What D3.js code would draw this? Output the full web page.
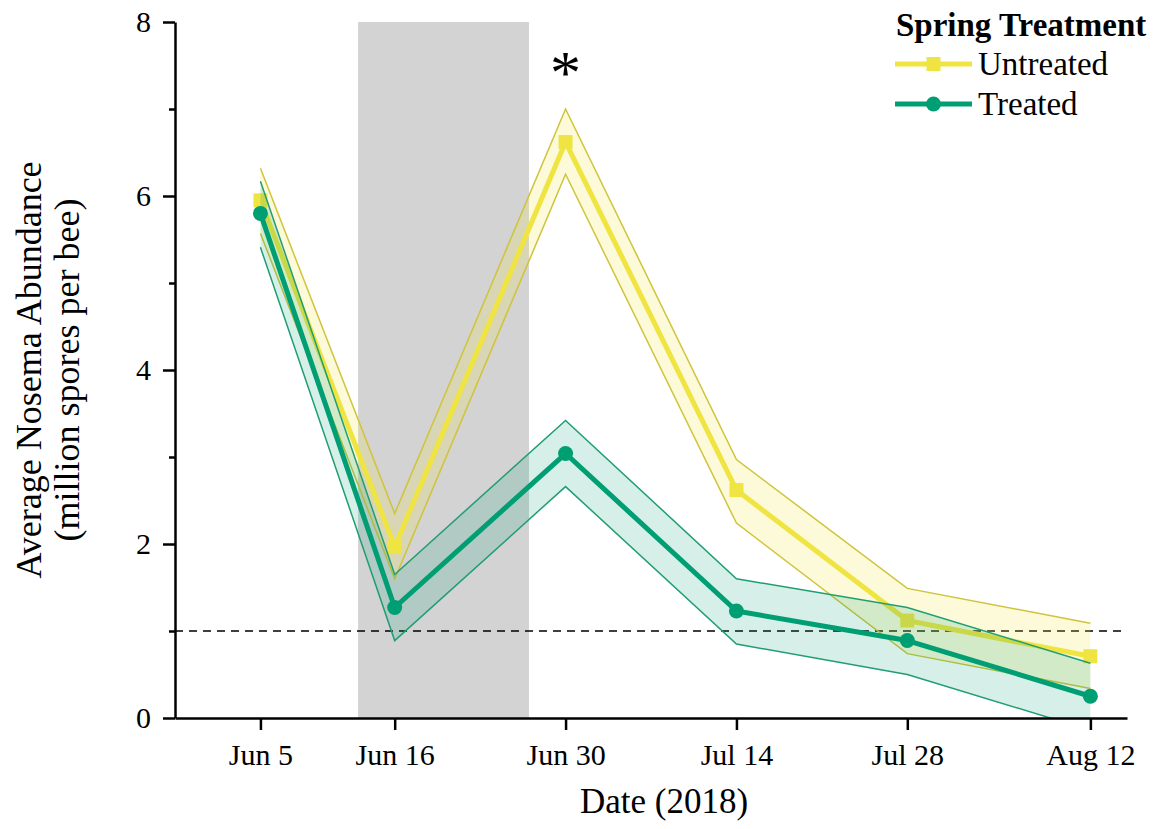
<!DOCTYPE html>
<html>
<head>
<meta charset="utf-8">
<script src="https://cdn.jsdelivr.net/npm/d3@7"></script>
<style>
  body { margin: 0; background: #fff; }
  text { font-family: "Liberation Serif", "Times New Roman", serif; }
</style>
</head>
<body>
<script>
// Data
const dates = ["2018-06-05", "2018-06-16", "2018-06-30", "2018-07-14", "2018-07-28", "2018-08-12"];
const untreatedMean = [5.95, 1.97, 6.62, 2.62, 1.12, 0.71];
const untreatedUpper = [6.32, 2.35, 7.00, 2.97, 1.49, 1.09];
const untreatedLower = [5.57, 1.60, 6.25, 2.24, 0.74, 0.34];
const treatedMean = [5.80, 1.27, 3.04, 1.23, 0.89, 0.25];
const treatedUpper = [6.17, 1.65, 3.42, 1.60, 1.27, 0.63];
const treatedLower = [5.41, 0.89, 2.66, 0.85, 0.50, -0.14];
const shadeRange = ["2018-06-13", "2018-06-27"];
const yMajorTicks = [0, 2, 4, 6, 8];
const yMinorTicks = [1, 3, 5, 7];
const threshold = 1;
const seriesNames = ["Untreated", "Treated"];
const seriesColors = ["#F0E442", "#009E73"];

const parse = d3.timeParse("%Y-%m-%d");

// Chart size
const margin = { top: 22, right: 28, bottom: 111, left: 175 };
const width = 1155;
const height = 829;
const innerW = width - margin.left - margin.right;
const innerH = height - margin.top - margin.bottom;

const svg = d3.select("body")
    .append("svg")
    .attr("width", width)
    .attr("height", height)
    .append("g")
    .attr("transform", "translate(" + margin.left + "," + margin.top + ")");

// Scales
const xScale = d3.scaleTime()
    .domain([parse("2018-05-29"), parse("2018-08-15")])
    .range([0, innerW]);
const yScale = d3.scaleLinear()
    .domain([0, 8])
    .range([innerH, 0]);

// Clip to the plot area (treated band dips below zero)
svg.append("clipPath")
    .attr("id", "plot-clip")
    .append("rect")
    .attr("width", innerW)
    .attr("height", innerH);

const plot = svg.append("g").attr("clip-path", "url(#plot-clip)");

// Gray treatment window
plot.append("rect")
    .attr("x", xScale(parse(shadeRange[0])))
    .attr("y", 0)
    .attr("width", xScale(parse(shadeRange[1])) - xScale(parse(shadeRange[0])))
    .attr("height", innerH)
    .attr("fill", "#d3d3d3");

// Dashed threshold line
plot.append("line")
    .attr("x1", 0)
    .attr("x2", innerW)
    .attr("y1", yScale(threshold))
    .attr("y2", yScale(threshold))
    .attr("stroke", "#000")
    .attr("stroke-width", 1.6)
    .attr("stroke-dasharray", "8,6");

// Build rows for each series
const untreated = dates.map((d, i) => ({ date: parse(d), mean: untreatedMean[i], lo: untreatedLower[i], hi: untreatedUpper[i] }));
const treated = dates.map((d, i) => ({ date: parse(d), mean: treatedMean[i], lo: treatedLower[i], hi: treatedUpper[i] }));

const area = d3.area()
    .x(d => xScale(d.date))
    .y0(d => yScale(d.lo))
    .y1(d => yScale(d.hi));
const line = d3.line()
    .x(d => xScale(d.date))
    .y(d => yScale(d.mean));

function drawSeries(data, color, edge, fillOpacity, shape) {
    // confidence band
    plot.append("path")
        .datum(data)
        .attr("d", area)
        .attr("fill", color)
        .attr("fill-opacity", fillOpacity);
    ["lo", "hi"].forEach(k => {
        plot.append("path")
            .datum(data)
            .attr("d", d3.line().x(d => xScale(d.date)).y(d => yScale(d[k])))
            .attr("fill", "none")
            .attr("stroke", edge)
            .attr("stroke-width", 1.5);
    });
    // mean line
    plot.append("path")
        .datum(data)
        .attr("d", line)
        .attr("fill", "none")
        .attr("stroke", color)
        .attr("stroke-width", 5)
        .attr("stroke-linejoin", "round");
    // markers
    if (shape === "square") {
        plot.selectAll(null)
            .data(data)
            .join("rect")
            .attr("x", d => xScale(d.date) - 7)
            .attr("y", d => yScale(d.mean) - 7)
            .attr("width", 14)
            .attr("height", 14)
            .attr("fill", color);
    } else {
        plot.selectAll(null)
            .data(data)
            .join("circle")
            .attr("cx", d => xScale(d.date))
            .attr("cy", d => yScale(d.mean))
            .attr("r", 7.5)
            .attr("fill", color);
    }
}

drawSeries(untreated, seriesColors[0], "#cfc43a", 0.2, "square");
drawSeries(treated, seriesColors[1], "#1f9e74", 0.16, "circle");

// Significance asterisk
svg.append("text")
    .attr("x", xScale(parse(dates[2])))
    .attr("y", 93 - margin.top)
    .attr("text-anchor", "middle")
    .style("font-size", "62px")
    .text("*");

// Axes
const xAxis = d3.axisBottom(xScale)
    .tickValues(dates.map(parse))
    .tickFormat(d3.timeFormat("%b %-d"))
    .tickSize(12)
    .tickSizeOuter(0)
    .tickPadding(14);
const gx = svg.append("g")
    .attr("transform", "translate(0," + innerH + ")")
    .call(xAxis);

const yAxis = d3.axisLeft(yScale)
    .tickValues(yMajorTicks)
    .tickSize(12)
    .tickSizeOuter(0)
    .tickPadding(12);
const gy = svg.append("g").call(yAxis);

const gyMinor = svg.append("g")
    .call(d3.axisLeft(yScale).tickValues(yMinorTicks).tickSize(6).tickFormat(""));
gyMinor.select(".domain").remove();

[gx, gy, gyMinor].forEach(g => {
    g.selectAll("path, line").attr("stroke", "#000").attr("stroke-width", 2.5);
    g.selectAll("text")
        .attr("fill", "#000")
        .style("font-family", "'Liberation Serif', 'Times New Roman', serif")
        .style("font-size", "30px");
});

// Axis titles
svg.append("text")
    .attr("x", innerW / 2 + 13)
    .attr("y", innerH + 95)
    .attr("text-anchor", "middle")
    .style("font-size", "35px")
    .text("Date (2018)");

const yTitle = svg.append("text")
    .attr("transform", "translate(" + (-134) + "," + (innerH / 2) + ") rotate(-90)")
    .attr("text-anchor", "middle")
    .style("font-size", "36px");
yTitle.append("tspan").attr("x", 0).attr("y", 0).text("Average Nosema Abundance");
yTitle.append("tspan").attr("x", 0).attr("y", 38).text("(million spores per bee)");

// Legend
const legend = svg.append("g")
    .attr("transform", "translate(" + (896 - margin.left) + "," + (36 - margin.top) + ")");
legend.append("text")
    .attr("x", 0)
    .attr("y", 0)
    .style("font-size", "33px")
    .style("font-weight", "bold")
    .text("Spring Treatment");

seriesNames.forEach((name, i) => {
    const row = legend.append("g")
        .attr("transform", "translate(0," + (28 + i * 40) + ")");
    row.append("line")
        .attr("x1", -1)
        .attr("x2", 76)
        .attr("stroke", seriesColors[i])
        .attr("stroke-width", 5);
    if (i === 0) {
        row.append("rect")
            .attr("x", 30.5)
            .attr("y", -7)
            .attr("width", 14)
            .attr("height", 14)
            .attr("fill", seriesColors[i]);
    } else {
        row.append("circle")
            .attr("cx", 37.5)
            .attr("r", 7.5)
            .attr("fill", seriesColors[i]);
    }
    row.append("text")
        .attr("x", 82)
        .attr("y", 11)
        .style("font-size", "33px")
        .text(name);
});
</script>
</body>
</html>
